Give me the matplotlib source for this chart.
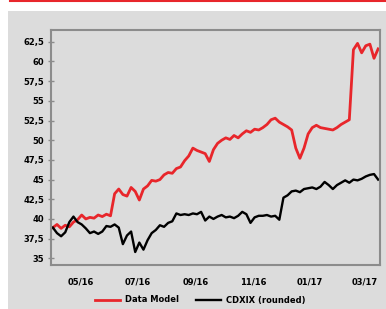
import matplotlib
matplotlib.use("Agg")
import matplotlib.pyplot as plt
import matplotlib.dates as mdates
from matplotlib.patches import Rectangle
from matplotlib.lines import Line2D
from matplotlib.ticker import FuncFormatter
import pandas as pd

# one reading roughly every 4-5 days, Apr 2016 - mid Mar 2017
dates = pd.date_range("2016-04-01", "2017-03-15", periods=80)

data_model = [
    38.9, 39.3, 38.8, 39.2, 39.0, 39.6, 39.9, 40.5, 40.0, 40.2,
    40.1, 40.5, 40.3, 40.6, 40.4, 43.2, 43.8, 43.1, 42.9, 44.0,
    43.5, 42.4, 43.8, 44.2, 44.9, 44.8, 45.0, 45.6, 45.9, 45.8,
    46.4, 46.6, 47.4, 48.0, 49.0, 48.7, 48.5, 48.3, 47.3, 48.8,
    49.6, 50.0, 50.3, 50.1, 50.6, 50.3, 50.8, 51.2, 51.0, 51.4,
    51.3, 51.6, 52.0, 52.6, 52.8, 52.3, 52.0, 51.7, 51.3, 49.0,
    47.7, 49.0, 50.8, 51.6, 51.9, 51.6, 51.5, 51.4, 51.3, 51.6,
    52.0, 52.3, 52.6, 61.5, 62.3, 61.1, 62.0, 62.2, 60.4, 61.6,
]

cdx = [
    38.9, 38.2, 37.8, 38.3, 39.6, 40.3, 39.6, 39.3, 38.8, 38.2,
    38.4, 38.1, 38.4, 39.1, 39.0, 39.3, 38.9, 36.8, 37.9, 38.4,
    35.8, 37.0, 36.1, 37.3, 38.2, 38.6, 39.2, 39.0, 39.5, 39.7,
    40.7, 40.5, 40.6, 40.5, 40.7, 40.6, 40.9, 39.8, 40.3, 40.0,
    40.3, 40.5, 40.2, 40.3, 40.1, 40.4, 40.9, 40.6, 39.5, 40.2,
    40.4, 40.4, 40.5, 40.3, 40.4, 39.9, 42.7, 43.0, 43.5, 43.6,
    43.4, 43.8, 43.9, 44.0, 43.8, 44.1, 44.7, 44.3, 43.8, 44.3,
    44.6, 44.9, 44.6, 45.0, 44.9, 45.1, 45.4, 45.6, 45.7, 45.0,
]

y_ticks = [35, 37.5, 40, 42.5, 45, 47.5, 50, 52.5, 55, 57.5, 60, 62.5]

W, H = 386, 309
grey = "#dcdcdc"
spine_grey = "#8c8c8c"
red = "#e8262b"

fig = plt.figure(figsize=(W / 100, H / 100), dpi=100)
fig.set_facecolor("white")

# grey panel behind everything and red rule on top
fig.add_artist(Rectangle((8 / W, 0), 1 - 8 / W, 1 - 11 / H, transform=fig.transFigure,
                         facecolor=grey, edgecolor="none", zorder=0))
fig.add_artist(Line2D([10 / W, 1], [1 - 1 / H, 1 - 1 / H], transform=fig.transFigure,
                      color=red, lw=1.5))

ax = fig.add_axes([51 / W, 1 - 265 / H, (380 - 51) / W, (265 - 30) / H])
ax.set_facecolor(grey)

ax.plot(dates, data_model, color=red, lw=2.0, label="Data Model")
ax.plot(dates, cdx, color="black", lw=1.7, label="CDXIX (rounded)")

ax.set_ylim(34.15, 64.0)
ax.set_xlim(pd.Timestamp("2016-03-30"), pd.Timestamp("2017-03-17"))
ax.set_yticks(y_ticks)
ax.yaxis.set_major_formatter(FuncFormatter(lambda v, p: f"{v:g}".replace(".", ",")))

ax.xaxis.set_major_locator(mdates.MonthLocator(bymonth=[1, 3, 5, 7, 9, 11]))
ax.xaxis.set_major_formatter(mdates.DateFormatter("%m/%y"))

for s in ax.spines.values():
    s.set_color(spine_grey)
    s.set_linewidth(1.5)

lab_font = dict(family="DejaVu Sans", weight="bold", size=6)
ax.tick_params(axis="y", direction="inout", length=4, width=1, color=spine_grey, pad=3)
ax.tick_params(axis="x", length=0, pad=9)
for t in ax.get_xticklabels() + ax.get_yticklabels():
    t.set_fontproperties(lab_font)

fig.legend(loc="center", bbox_to_anchor=(200 / W, 1 - 300 / H), ncol=2, frameon=False,
           prop=lab_font, handlelength=3.0, handletextpad=0.6, columnspacing=2.0)

fig.savefig("out.png", dpi=100)
